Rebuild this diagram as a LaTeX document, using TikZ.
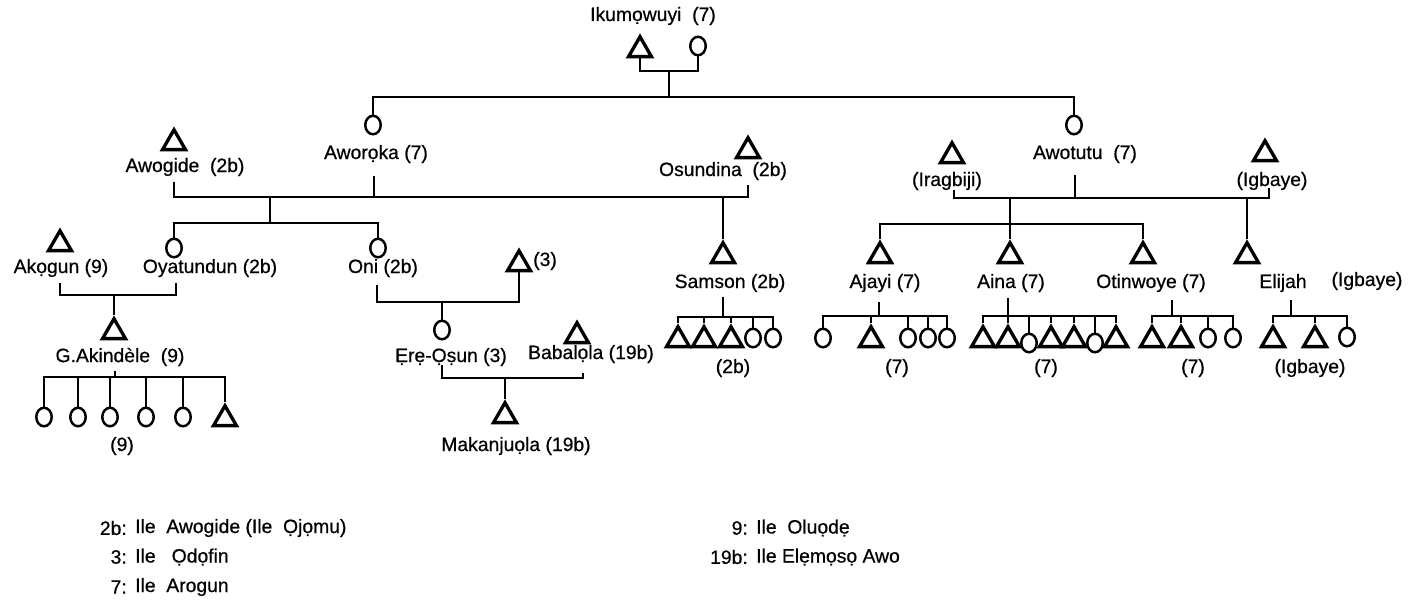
\documentclass[tikz,border=0pt]{standalone}
\usepackage{fontspec}
\setmainfont[FakeBold=0.6]{Liberation Sans}
\usetikzlibrary{shapes.geometric}

\tikzset{
  man/.style={draw, regular polygon, regular polygon sides=3, minimum size=0.53cm, inner sep=0pt, line width=1.9pt},
  woman/.style={draw, ellipse, minimum width=0.31cm, minimum height=0.37cm, inner sep=0pt, line width=1.4pt},
  lbl/.style={inner sep=0pt, font=\fontsize{11}{13}\selectfont},
  kin/.style={line width=1.4pt}
}

\begin{document}
\begin{tikzpicture}[x=0.02cm, y=-0.02cm, kin]
    \useasboundingbox (0,0) rectangle (1416,602);

    % first couple
    \node[lbl] (ikL) at (653,16) {Ikumọwuyi\ \ (7)};
    \node[man] (ikT) at (640,50) {};
    \node[woman] (ikC) at (698,46) {};
    \coordinate (ikM) at (669,71);
    \coordinate (ikB) at (669,97);
    \draw (ikT.south) |- (ikM) -| (ikC.south);
    \draw (ikM) -- (ikB);

    \node[woman] (aworoka) at (373,125) {};
    \node[woman] (awotutu) at (1074,125) {};
    \draw (aworoka.north) |- (ikB) -| (awotutu.north);

    % Aworoka and her husbands
    \node[lbl] (aworokaL) at (376,154) {Aworọka (7)};
    \node[man] (awogide) at (174,143) {};
    \node[lbl] (awogideL) at (185,167) {Awogide\ \ (2b)};
    \node[man] (osundina) at (748,151) {};
    \node[lbl] (osundinaL) at (723,171) {Osundina\ \ (2b)};
    \coordinate (awgU) at (174,182);
    \coordinate (awkU) at (374,176);
    \coordinate (osdU) at (748,185);
    \coordinate (m1) at (270,197);
    \coordinate (m2) at (723,197);
    \draw (awgU) |- (m1) -- (m2) -| (osdU);
    \draw (awkU) -- (awkU |- m1);

    % Awotutu and her husbands
    \node[man] (iragbiji) at (952,156) {};
    \node[lbl] (iragbijiL) at (947,181) {(Iragbiji)};
    \node[lbl] (awotutuL) at (1085,154) {Awotutu\ \ (7)};
    \node[man] (igbaye) at (1265,154) {};
    \node[lbl] (igbayeL) at (1272,181) {(Igbaye)};
    \coordinate (irgU) at (954,190);
    \coordinate (awtU) at (1075,175);
    \coordinate (igbU) at (1269,188);
    \coordinate (m3) at (1010,198);
    \coordinate (m4) at (1247,198);
    \draw (irgU) |- (m3) -- (m4) -| (igbU);
    \draw (awtU) -- (awtU |- m3);

    % Oyatundun and Oni
    \coordinate (m1B) at (270,223);
    \draw (m1) -- (m1B);
    \node[woman] (oyatundun) at (174,248) {};
    \node[woman] (oni) at (378,248) {};
    \draw (oyatundun.north) |- (m1B) -| (oni.north);
    \node[man] (akogun) at (60,244) {};
    \node[lbl] (akogunL) at (61,268) {Akọgun (9)};
    \node[lbl] (oyatundunL) at (210,268) {Oyatundun (2b)};
    \node[lbl] (oniL) at (383,268) {Oni (2b)};
    \node[man] (three) at (519,264) {};
    \node[lbl, anchor=west] (threeL) at (532,261) {(3)};

    \coordinate (akgU) at (60,283);
    \coordinate (oyaU) at (176,283);
    \coordinate (m5) at (114,295);
    \draw (akgU) |- (m5) -| (oyaU);
    \node[man] (akindele) at (114,332) {};
    \draw (m5) -- (akindele.north);
    \node[lbl] (akindeleL) at (120,357) {G.Akindèle\ \ (9)};

    \foreach \x/\y/\s [count=\i] in {44/417/woman, 78/417/woman, 110/417/woman, 146/417/woman, 183/417/woman, 225/419/man}
        \node[\s] (gk\i) at (\x,\y) {};
    \coordinate (gkU) at (115,371);
    \coordinate (gkB) at (115,377);
    \draw (gkU) -- (gkB);
    \draw (gk1.north) |- (gkB) -| (gk6.north);
    \foreach \i in {2,...,5}
        \draw (gk\i.north) -- (gk\i.north |- gkB);
    \node[lbl] (gkL) at (122,446) {(9)};

    \coordinate (oniU) at (377,285);
    \coordinate (m6) at (442,302);
    \draw (oniU) |- (m6) -| (three.south);
    \node[woman] (ereosun) at (442,330) {};
    \draw (m6) -- (ereosun.north);
    \node[lbl] (ereosunL) at (451,357) {Ẹrẹ-Ọṣun (3)};
    \node[man] (babalola) at (577,336) {};
    \node[lbl] (babalolaL) at (591,354) {Babalọla (19b)};
    \coordinate (ereU) at (442,365);
    \coordinate (babU) at (583,373);
    \coordinate (m7) at (505,378);
    \draw (ereU) |- (m7) -| (babU);
    \node[man] (makanjuola) at (505,416) {};
    \draw (m7) -- (makanjuola.north);
    \node[lbl] (makanjuolaL) at (516,446) {Makanjuọla (19b)};

    % Samson
    \node[man] (samson) at (723,256) {};
    \draw (m2) -- (samson.north);
    \node[lbl] (samsonL) at (730,283) {Samson (2b)};
    \foreach \x/\y/\s [count=\i] in {678/340/man, 704/340/man, 731/340/man, 753/338/woman, 773/338/woman}
        \node[\s] (sm\i) at (\x,\y) {};
    \coordinate (smU) at (723,297);
    \coordinate (smB) at (723,317);
    \draw (smU) -- (smB);
    \draw (sm1.north) |- (smB) -| (sm5.north);
    \foreach \i in {2,...,4}
        \draw (sm\i.north) -- (sm\i.north |- smB);
    \node[lbl] (smL) at (733,368) {(2b)};

    % children of Awotutu
    \coordinate (m3B) at (1010,224);
    \draw (m3) -- (m3B);
    \node[man] (ajayi) at (880,256) {};
    \node[man] (aina) at (1010,256) {};
    \node[man] (otinwoye) at (1143,256) {};
    \draw (ajayi.north) |- (m3B) -| (otinwoye.north);
    \draw (m3B) -- (aina.north);
    \node[man] (elijah) at (1247,256) {};
    \draw (m4) -- (elijah.north);
    \node[lbl] (ajayiL) at (885,283) {Ajayi (7)};
    \node[lbl] (ainaL) at (1011,283) {Aina (7)};
    \node[lbl] (otinwoyeL) at (1151,283) {Otinwoye (7)};
    \node[lbl] (elijahL) at (1283,283) {Elijah};
    \node[lbl] (elijahG) at (1367,281) {(Igbaye)};

    \foreach \x/\y/\s [count=\i] in {823/338/woman, 871/340/man, 908/338/woman, 928/338/woman, 947/338/woman}
        \node[\s] (aj\i) at (\x,\y) {};
    \coordinate (ajU) at (879,302);
    \coordinate (ajB) at (879,316);
    \draw (ajU) -- (ajB);
    \draw (aj1.north) |- (ajB) -| (aj5.north);
    \foreach \i in {2,...,4}
        \draw (aj\i.north) -- (aj\i.north |- ajB);
    \node[lbl] (ajL) at (897,368) {(7)};

    \foreach \x/\y/\s [count=\i] in {983/340/man, 1008/340/man, 1029/343/woman, 1051/340/man, 1074/340/man, 1095/343/woman, 1116/340/man}
        \node[\s] (ai\i) at (\x,\y) {};
    \coordinate (aiU) at (1008,298);
    \coordinate (aiB) at (1008,316);
    \draw (aiU) -- (aiB);
    \draw (ai1.north) |- (aiB) -| (ai7.north);
    \foreach \i in {2,...,6}
        \draw (ai\i.north) -- (ai\i.north |- aiB);
    \node[lbl] (aiL) at (1046,368) {(7)};

    \foreach \x/\y/\s [count=\i] in {1152/340/man, 1181/340/man, 1208/338/woman, 1233/338/woman}
        \node[\s] (ot\i) at (\x,\y) {};
    \coordinate (otU) at (1172,300);
    \coordinate (otB) at (1172,316);
    \draw (otU) -- (otB);
    \draw (ot1.north) |- (otB) -| (ot4.north);
    \foreach \i in {2,3}
        \draw (ot\i.north) -- (ot\i.north |- otB);
    \node[lbl] (otL) at (1193,368) {(7)};

    \foreach \x/\y/\s [count=\i] in {1273/340/man, 1315/340/man, 1347/337/woman}
        \node[\s] (el\i) at (\x,\y) {};
    \coordinate (elU) at (1291,300);
    \coordinate (elB) at (1291,316);
    \draw (elU) -- (elB);
    \draw (el1.north) |- (elB) -| (el3.north);
    \draw (el2.north) -- (el2.north |- elB);
    \node[lbl] (elL) at (1310,368) {(Igbaye)};

    % key
    \foreach \k/\t/\y in {2b/{Ile\ \ Awogide (Ile\ \ Ọjọmu)}/528, 3/{Ile\ \ \ Ọdọfin}/557, 7/{Ile\ \ Arogun}/587}{
        \node[lbl, anchor=east] (lk\k) at (128,\y) {\k:};
        \node[lbl, anchor=west] (lt\k) at (134,\y) {\t};
    }
    \foreach \k/\t/\y in {9/{Ile\ \ Oluọdẹ}/528, 19b/{Ile Elẹmọsọ Awo}/557}{
        \node[lbl, anchor=east] (lk\k) at (749,\y) {\k:};
        \node[lbl, anchor=west] (lt\k) at (755,\y) {\t};
    }
\end{tikzpicture}
\end{document}
